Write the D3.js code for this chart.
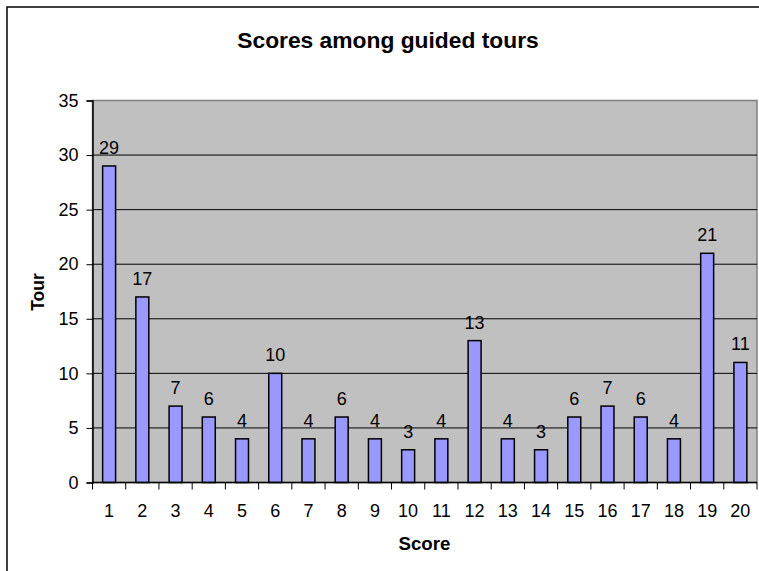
<!DOCTYPE html>
<html>
<head>
<meta charset="utf-8">
<script src="https://cdn.jsdelivr.net/npm/d3@7"></script>
<style>
  body { margin: 0; background: #fff; }
  svg { display: block; font-family: "Liberation Sans", Arial, sans-serif; }
</style>
</head>
<body>
<div id="canvas"></div>
<script>
// data
const scores = ['1','2','3','4','5','6','7','8','9','10','11','12','13','14','15','16','17','18','19','20'];
const tours = [29, 17, 7, 6, 4, 10, 4, 6, 4, 3, 4, 13, 4, 3, 6, 7, 6, 4, 21, 11];
const yTicks = [0, 5, 10, 15, 20, 25, 30, 35];

const width = 759;
const height = 571;

const canvas = d3.select('#canvas')
                .append('svg')
                .attr('width', width)
                .attr('height', height);

// outer chart frame, only left and top edges are inside the picture
canvas.append('path')
    .attr('d', `M7,${height} V7 H${width}`)
    .attr('fill', 'none')
    .attr('stroke', '#000')
    .attr('stroke-width', 1.5);

const margin = { top: 100.5, left: 92.5, right: 2, bottom: 88.5 };
const innerWidth = width - margin.left - margin.right;
const innerHeight = height - margin.top - margin.bottom;

const xScale = d3.scaleBand()
                .domain(scores)
                .range([0, innerWidth]);

const yScale = d3.scaleLinear()
                .domain([0, 35])
                .range([innerHeight, 0]);

const g = canvas.append('g')
            .attr('transform', `translate(${margin.left},${margin.top})`);

// plot background
g.append('rect')
    .attr('width', innerWidth)
    .attr('height', innerHeight)
    .attr('fill', '#c0c0c0')
    .attr('stroke', '#808080')
    .attr('stroke-width', 1.5);

// gridlines
g.append('g')
    .selectAll('line')
    .data(yTicks.filter(d => d > 0 && d < 35))
    .enter().append('line')
        .attr('x1', 0).attr('x2', innerWidth)
        .attr('y1', d => yScale(d)).attr('y2', d => yScale(d))
        .attr('stroke', '#000')
        .attr('stroke-width', 1);

// bars
const barW = xScale.bandwidth() * 0.39;
g.selectAll('.bar')
    .data(tours)
    .enter().append('rect')
        .attr('class', 'bar')
        .attr('x', (d, i) => xScale(scores[i]) + (xScale.bandwidth() - barW) / 2)
        .attr('y', d => yScale(d))
        .attr('width', barW)
        .attr('height', d => innerHeight - yScale(d))
        .attr('fill', '#9999ff')
        .attr('stroke', '#000')
        .attr('stroke-width', 1.5);

// value labels
g.selectAll('.val')
    .data(tours)
    .enter().append('text')
        .attr('class', 'val')
        .attr('x', (d, i) => xScale(scores[i]) + xScale.bandwidth() / 2)
        .attr('y', d => yScale(d) - 12)
        .attr('text-anchor', 'middle')
        .attr('font-size', 18)
        .attr('fill', '#000')
        .text(d => d);

// y axis
const yAxis = g.append('g')
    .call(d3.axisLeft(yScale).tickValues(yTicks).tickSize(6).tickPadding(8));
yAxis.selectAll('text').attr('font-size', 18).attr('fill', '#000').attr('font-family', null);
yAxis.selectAll('line').attr('stroke', '#000');
yAxis.select('.domain').attr('stroke', '#000').attr('stroke-width', 1.5);

// x axis: ticks sit on band edges, labels centred in bands
const xAxis = g.append('g')
    .attr('transform', `translate(0,${innerHeight})`);
xAxis.append('line')
    .attr('x1', 0).attr('x2', innerWidth)
    .attr('stroke', '#000').attr('stroke-width', 1.5);
xAxis.selectAll('.tick')
    .data(scores.concat(['end']))
    .enter().append('line')
        .attr('class', 'tick')
        .attr('x1', (d, i) => i * xScale.step())
        .attr('x2', (d, i) => i * xScale.step())
        .attr('y1', 0).attr('y2', 7)
        .attr('stroke', '#000');
xAxis.selectAll('text')
    .data(scores)
    .enter().append('text')
        .attr('x', d => xScale(d) + xScale.bandwidth() / 2)
        .attr('y', 34)
        .attr('text-anchor', 'middle')
        .attr('font-size', 18)
        .text(d => d);

// titles
canvas.append('text')
    .attr('x', 388).attr('y', 48)
    .attr('text-anchor', 'middle')
    .attr('font-size', 22.8)
    .attr('font-weight', 'bold')
    .text('Scores among guided tours');

canvas.append('text')
    .attr('x', 424.5).attr('y', 550)
    .attr('text-anchor', 'middle')
    .attr('font-size', 18.7)
    .attr('font-weight', 'bold')
    .text('Score');

canvas.append('text')
    .attr('transform', 'translate(44,292) rotate(-90)')
    .attr('text-anchor', 'middle')
    .attr('font-size', 17.5)
    .attr('font-weight', 'bold')
    .text('Tour');
</script>
</body>
</html>
